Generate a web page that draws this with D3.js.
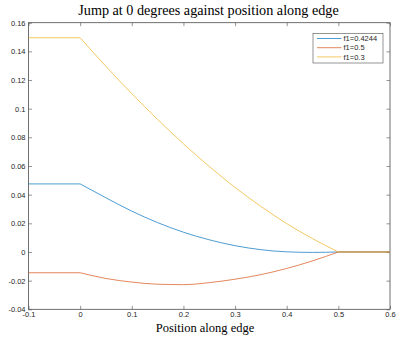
<!DOCTYPE html>
<html>
<head>
<meta charset="utf-8">
<script src="https://cdn.jsdelivr.net/npm/d3@7"></script>
<style>
  html, body { margin: 0; padding: 0; background: #ffffff; }
  svg { display: block; }
</style>
</head>
<body>
<svg id="chart" width="413" height="339"></svg>
<script>
// ---------- data ----------
const positions = [-0.1, 0, 0.05, 0.1, 0.15, 0.2, 0.25, 0.3, 0.35, 0.4, 0.45, 0.5, 0.6];
const seriesNames = ["f1=0.4244", "f1=0.5", "f1=0.3"];
const jumpF04244 = [0.0475, 0.0475, 0.0378, 0.0285, 0.0205, 0.0138, 0.0085, 0.0044, 0.0016, 0.0001, -0.0003, 0, 0];
const jumpF05 = [-0.0145, -0.0145, -0.0185, -0.021, -0.0225, -0.0228, -0.0214, -0.019, -0.0158, -0.0115, -0.0062, 0, 0];
const jumpF03 = [0.1495, 0.1495, 0.1295, 0.1105, 0.0925, 0.0755, 0.0597, 0.0450, 0.0318, 0.0198, 0.0093, 0, 0];
const seriesColors = ["#0072BD", "#D95319", "#EDB120"];
const xTicks = [-0.1, 0, 0.1, 0.2, 0.3, 0.4, 0.5, 0.6];
const yTicks = [-0.04, -0.02, 0, 0.02, 0.04, 0.06, 0.08, 0.1, 0.12, 0.14, 0.16];
const titleText = "Jump at 0 degrees against position along edge";
const xLabelText = "Position along edge";

// ---------- layout ----------
const svg = d3.select("#chart");
const L = 28.5, R = 390, T = 22.7, B = 309.3;
const x = d3.scaleLinear().domain([-0.1, 0.6]).range([L, R]);
const y = d3.scaleLinear().domain([-0.04, 0.16]).range([B, T]);

const axisColor = "#4d4d4d";
const tickFont = "'Liberation Sans', Arial, Helvetica, sans-serif";
const fmt = v => d3.format("~g")(+v.toFixed(4)).replace("−", "-");

function styleAxis(g) {
  g.select(".domain").remove();
  g.selectAll(".tick line").attr("stroke", axisColor).attr("stroke-width", 0.6);
  g.selectAll(".tick text").attr("fill", "#262626")
    .style("font-family", tickFont).style("font-size", "7.5px");
}

// bottom axis
svg.append("g").attr("transform", `translate(0,${B})`)
  .call(d3.axisBottom(x).tickValues(xTicks).tickSizeInner(-3.5).tickSizeOuter(0).tickPadding(2.8).tickFormat(fmt))
  .call(styleAxis);
// top axis (ticks only)
svg.append("g").attr("transform", `translate(0,${T})`)
  .call(d3.axisTop(x).tickValues(xTicks).tickSizeInner(-3.5).tickSizeOuter(0).tickFormat(""))
  .call(styleAxis);
// left axis
svg.append("g").attr("transform", `translate(${L},0)`)
  .call(d3.axisLeft(y).tickValues(yTicks).tickSizeInner(-3.5).tickSizeOuter(0).tickPadding(3).tickFormat(fmt))
  .call(styleAxis);
// right axis (ticks only)
svg.append("g").attr("transform", `translate(${R},0)`)
  .call(d3.axisRight(y).tickValues(yTicks).tickSizeInner(-3.5).tickSizeOuter(0).tickFormat(""))
  .call(styleAxis);

// box
svg.append("rect").attr("x", L).attr("y", T).attr("width", R - L).attr("height", B - T)
  .attr("fill", "none").attr("stroke", axisColor).attr("stroke-width", 0.8);

// ---------- lines ----------
const allSeries = [jumpF04244, jumpF05, jumpF03];
const lineLin = d3.line().x(d => x(d[0])).y(d => y(d[1]));
const lineCurve = d3.line().x(d => x(d[0])).y(d => y(d[1])).curve(d3.curveMonotoneX);

allSeries.forEach((vals, i) => {
  const pts = positions.map((p, k) => [p, vals[k]]);
  const pre = pts.filter(d => d[0] <= 0);
  const mid = pts.filter(d => d[0] >= 0 && d[0] <= 0.5);
  const post = pts.filter(d => d[0] >= 0.5);
  const g = svg.append("g").attr("fill", "none").attr("stroke", seriesColors[i]).attr("stroke-width", 0.7);
  g.append("path").attr("d", lineLin(pre));
  g.append("path").attr("d", lineCurve(mid));
  g.append("path").attr("d", lineLin(post));
});

// ---------- legend ----------
const lg = svg.append("g");
lg.append("rect").attr("x", 313).attr("y", 33.5).attr("width", 70).attr("height", 29.5)
  .attr("fill", "#fff").attr("stroke", axisColor).attr("stroke-width", 0.6);
seriesNames.forEach((name, i) => {
  const yy = 38.5 + i * 9.2;
  lg.append("line").attr("x1", 317).attr("x2", 341.5).attr("y1", yy).attr("y2", yy)
    .attr("stroke", seriesColors[i]).attr("stroke-width", 0.7);
  lg.append("text").attr("x", 343.5).attr("y", yy + 2.6).text(name)
    .attr("fill", "#262626").style("font-family", tickFont).style("font-size", "7.5px");
});

// ---------- texts ----------
svg.append("text").attr("x", 208.5).attr("y", 15).attr("text-anchor", "middle")
  .style("font-family", "'Liberation Serif', 'Times New Roman', serif").style("font-size", "14.2px")
  .attr("fill", "#000").text(titleText);
svg.append("text").attr("x", 205).attr("y", 331.5).attr("text-anchor", "middle")
  .style("font-family", "'Liberation Serif', 'Times New Roman', serif").style("font-size", "12.5px")
  .attr("fill", "#000").text(xLabelText);
</script>
</body>
</html>
